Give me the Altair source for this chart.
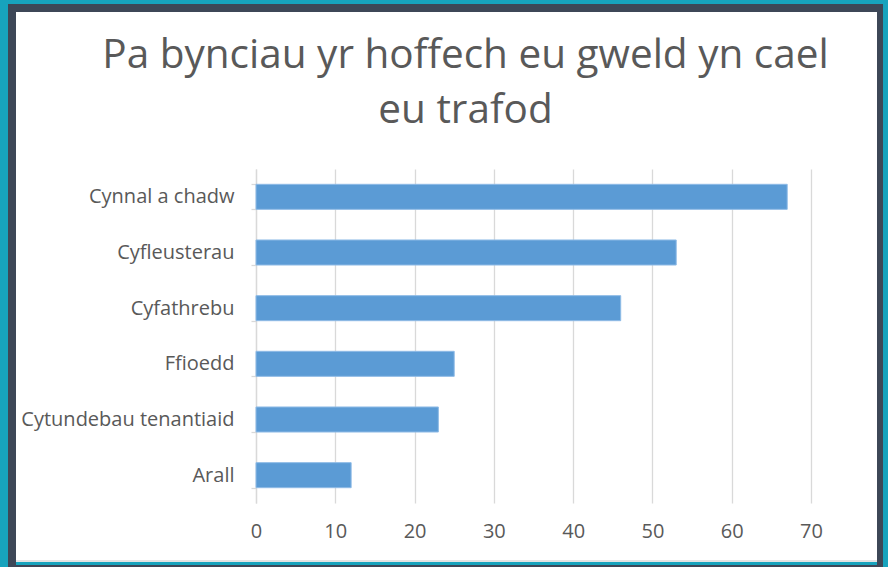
import altair as alt
import pandas as pd

categories = ["Cynnal a chadw", "Cyfleusterau", "Cyfathrebu", "Ffioedd",
              "Cytundebau tenantiaid", "Arall"]
values = [67, 53, 46, 25, 23, 12]
x_ticks = [0, 10, 20, 30, 40, 50, 60, 70]
title_lines = ["Pa bynciau yr hoffech eu gweld yn cael", "eu trafod"]

df = pd.DataFrame({"pwnc": categories, "gwerth": values})

FONT = "Open Sans"
TEXT = "#595959"
GRID = "#d9d9d9"
TEAL = "#17a3bd"
DARK = "#3d4757"

W, H = 555, 334
L, T = 256, 169

one = alt.Data(values=[{"k": 1}])


def strip(x0, x1, y0, y1, color):
    return alt.Chart(one).mark_rect(color=color).encode(
        x=alt.value(x0 - L), x2=alt.value(x1 - L),
        y=alt.value(y0 - T), y2=alt.value(y1 - T))


frame = [
    strip(0, 8, 0, 567, TEAL),
    strip(0, 888, 0, 4, TEAL),
    strip(883, 888, 0, 567, TEAL),
    strip(16, 883, 562, 565, TEAL),
    strip(8, 16, 4, 567, DARK),
    strip(8, 883, 4, 12, DARK),
    strip(877, 883, 4, 567, DARK),
    strip(16, 877, 565, 567, DARK),
    strip(16, 877, 560, 562, "#e3e3e3"),
]

bars = alt.Chart(df).mark_bar(color="#5b9bd5", stroke="#8fbbe6", strokeWidth=1).encode(
    x=alt.X("gwerth:Q",
            scale=alt.Scale(domain=[0, 70], nice=False),
            axis=alt.Axis(values=x_ticks, title=None, domain=False, ticks=False,
                          grid=True, gridColor=GRID, gridWidth=1.3, labelFlush=False,
                          labelFont=FONT, labelFontSize=20, labelColor=TEXT,
                          labelPadding=18)),
    y=alt.Y("pwnc:N", sort=categories,
            scale=alt.Scale(paddingInner=0.55, paddingOuter=0.275),
            axis=alt.Axis(title=None, domain=True, domainColor=GRID, domainWidth=1.3,
                          ticks=True, tickBand="extent", tickColor=GRID, tickSize=5,
                          tickWidth=1.3, grid=False, labelLimit=400,
                          labelFont=FONT, labelFontSize=20, labelColor=TEXT,
                          labelPadding=17)),
)

chart = alt.layer(*frame, bars).properties(
    width=W, height=H,
    autosize=alt.AutoSizeParams(type="none"),
    padding={"left": L, "top": T, "right": 888 - L - W, "bottom": 567 - T - H},
    background="white",
    title=alt.TitleParams(text=title_lines, font=FONT, fontSize=40.5,
                          fontWeight="normal", color=TEXT, lineHeight=55,
                          anchor="middle", dx=-68, offset=0, dy=131),
).configure_view(strokeWidth=0)

chart.save("out.html", embed_options={"renderer": "svg", "actions": False})
